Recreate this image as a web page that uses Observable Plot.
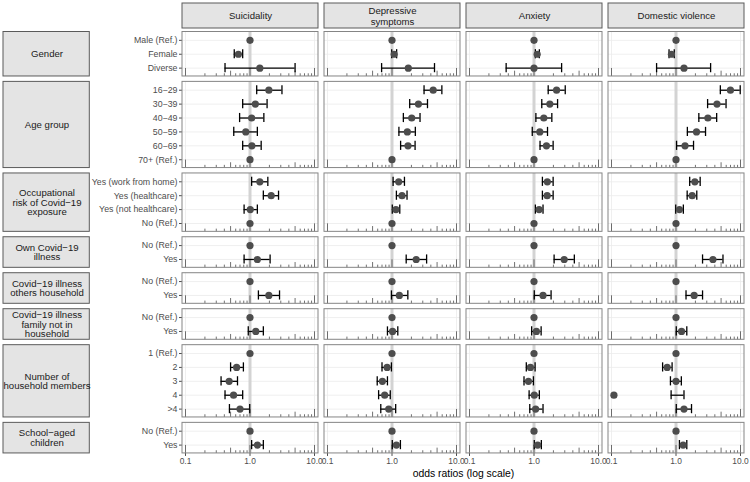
<!DOCTYPE html>
<html><head><meta charset="utf-8">
<script src="https://cdn.jsdelivr.net/npm/d3@7"></script>
<script src="https://cdn.jsdelivr.net/npm/@observablehq/plot@0.6"></script>
<style>
body{margin:0;background:#fff;}
#chart [aria-label="x-axis label"]{font-size:10.4px;fill:#000;}
#chart [aria-label="x-axis tick label"]{font-size:8.4px;}
</style>
</head><body><div id="chart"></div>
<script>
// ---- data ----
const outcomes = ["Suicidality", "Depressive\nsymptoms", "Anxiety", "Domestic violence"];
const groupLabels = [
  "Gender", "Age group", "Occupational\nrisk of Covid\u221219\nexposure", "Own Covid\u221219\nillness",
  "Covid\u221219 illness\nothers household", "Covid\u221219 illness\nfamily not in\nhousehold",
  "Number of\nhousehold members", "School\u2212aged\nchildren"
];
const levels = [
  ["Male (Ref.)", "Female", "Diverse"],
  ["16\u221229", "30\u221239", "40\u221249", "50\u221259", "60\u221269", "70+ (Ref.)"],
  ["Yes (work from home)", "Yes (healthcare)", "Yes (not healthcare)", "No (Ref.)"],
  ["No (Ref.)", "Yes"],
  ["No (Ref.)", "Yes"],
  ["No (Ref.)", "Yes"],
  ["1 (Ref.)", "2", "3", "4", ">4"],
  ["No (Ref.)", "Yes"]
];
const suicidalityOR = [1, 0.66, 1.42, 1.96, 1.21, 1.06, 0.86, 1.07, 1, 1.42, 2.13, 1.01, 1, 1, 1.30, 1, 1.96, 1, 1.23, 1, 0.62, 0.475, 0.556, 0.70, 1, 1.30];
const suicidalityLo = [null, 0.57, 0.41, 1.27, 0.77, 0.69, 0.56, 0.77, null, 1.06, 1.61, 0.81, null, null, 0.81, null, 1.35, null, 0.94, null, 0.50, 0.356, 0.41, 0.48, null, 1.06];
const suicidalityHi = [null, 0.77, 5.0, 3.13, 1.84, 1.64, 1.30, 1.49, null, 1.89, 2.77, 1.30, null, null, 2.05, null, 2.87, null, 1.61, null, 0.79, 0.64, 0.77, 0.99, null, 1.61];
const depressiveOR = [1, 1.08, 1.79, 4.35, 2.57, 2.02, 1.73, 1.77, 1, 1.27, 1.43, 1.15, 1, 1, 2.37, 1, 1.30, 1, 1.02, 1, 0.84, 0.71, 0.77, 0.89, 1, 1.17];
const depressiveLo = [null, 0.99, 0.69, 3.14, 1.88, 1.50, 1.28, 1.36, null, 1.04, 1.17, 1.01, null, null, 1.66, null, 0.98, null, 0.85, null, 0.70, 0.59, 0.62, 0.67, null, 1.01];
const depressiveHi = [null, 1.18, 4.56, 5.93, 3.55, 2.72, 2.30, 2.28, null, 1.56, 1.71, 1.32, null, null, 3.44, null, 1.76, null, 1.23, null, 0.98, 0.85, 0.94, 1.14, null, 1.35];
const anxietyOR = [1, 1.12, 1.0, 2.24, 1.76, 1.42, 1.23, 1.56, 1, 1.61, 1.60, 1.20, 1, 1, 2.94, 1, 1.38, 1, 1.09, 1, 0.88, 0.82, 1.01, 1.06, 1, 1.14];
const anxietyLo = [null, 1.05, 0.37, 1.66, 1.32, 1.07, 0.94, 1.24, null, 1.35, 1.35, 1.05, null, null, 2.05, null, 1.01, null, 0.92, null, 0.76, 0.70, 0.84, 0.86, null, 1.01];
const anxietyHi = [null, 1.21, 2.68, 3.05, 2.32, 1.89, 1.62, 1.98, null, 1.98, 1.98, 1.38, null, null, 4.22, null, 1.84, null, 1.29, null, 1.04, 0.98, 1.21, 1.38, null, 1.30];
const violenceOR = [1, 0.85, 1.33, 6.98, 4.32, 3.12, 2.08, 1.38, 1, 1.96, 1.78, 1.13, 1, 1, 3.74, 1, 1.91, 1, 1.22, 1, 0.73, 1.0, 0.109, 1.33, 1, 1.29];
const violenceLo = [null, 0.78, 0.50, 4.87, 3.09, 2.26, 1.50, 1.02, null, 1.63, 1.49, 0.99, null, null, 2.58, null, 1.43, null, 1.01, null, 0.62, 0.82, 0.84, 1.01, null, 1.13];
const violenceHi = [null, 0.94, 3.44, 9.9, 5.97, 4.27, 2.87, 1.87, null, 2.37, 2.10, 1.30, null, null, 5.35, null, 2.58, null, 1.47, null, 0.87, 1.21, 1.33, 1.74, null, 1.47];
const xTicks = [0.1, 1, 10];
const logTicksLong = [0.1, 1, 10];
const logTicksMid = [0.5, 5];
const logTicksShort = [0.2, 0.3, 0.4, 0.6, 0.7, 0.8, 0.9, 2, 3, 4, 6, 7, 8, 9];

// ---- layout (units of one row) ----
const U = 13.9;            // px per row unit
const GAP = 5.4 / U;       // gap between row panels
const TOP = 31.5;          // px of first panel top
let cur = 0;
const panels = [], rows = [];
groupLabels.forEach((g, gi) => {
  const n = levels[gi].length;
  const top = cur, bottom = cur + n + 0.2;
  panels.push({group: g, top, bottom, mid: (top + bottom) / 2});
  levels[gi].forEach((lab, i) => rows.push({label: lab, pos: top + 0.6 + i}));
  cur = bottom + GAP;
});
const total = cur - GAP;
const hdrTop = (3 - TOP) / U, hdrBottom = (28 - TOP) / U;
const labelByPos = new Map(rows.map(r => [r.pos, r.label]));

const ors = [suicidalityOR, depressiveOR, anxietyOR, violenceOR];
const los = [suicidalityLo, depressiveLo, anxietyLo, violenceLo];
const his = [suicidalityHi, depressiveHi, anxietyHi, violenceHi];
const est = [];
outcomes.forEach((o, k) => rows.forEach((r, i) =>
  est.push({outcome: o, pos: r.pos, or: ors[k][i], lo: los[k][i], hi: his[k][i]})));
const bars = est.filter(d => d.lo != null);

const vgrid = panels.flatMap(p => xTicks.map(v => ({v, top: p.top, bottom: p.bottom})));
const tickLen = [[logTicksLong, 8], [logTicksMid, 5.3], [logTicksShort, 2.7]];
const logTicks = panels.flatMap(p => tickLen.flatMap(([vals, len]) =>
  vals.map(v => ({v, bottom: p.bottom, top: p.bottom - len / U}))));

const height = 482;
const chart = Plot.plot({
  width: 750, height,
  marginLeft: 182, marginRight: 5, marginTop: TOP,
  marginBottom: height - TOP - total * U,
  style: {fontFamily: "'Liberation Sans', Arial, sans-serif", fontSize: "8.8px", color: "#4d4d4d", background: "#fff"},
  fx: {domain: outcomes, paddingInner: 0.042, paddingOuter: 0, axis: null, label: null},
  x: {type: "log", domain: [0.1, 10], insetLeft: 3, insetRight: 4, ticks: xTicks,
      tickFormat: d3.format(".1f"), tickSize: 3, tickPadding: 2,
      label: "odds ratios (log scale)", labelArrow: "none", labelAnchor: "center", labelOffset: 24},
  y: {type: "linear", domain: [0, total], reverse: true, ticks: rows.map(r => r.pos),
      tickFormat: p => labelByPos.get(p), tickSize: 3, tickPadding: 2, label: null},
  marks: [
    // column strips
    Plot.rect(outcomes, {fx: d => d, y1: () => hdrTop, y2: () => hdrBottom, fill: "#e4e4e4", stroke: "#5a5a5a", strokeWidth: 1}),
    Plot.text(outcomes, {fx: d => d, y: () => (hdrTop + hdrBottom) / 2, text: d => d, frameAnchor: "middle", fontSize: 9.6, fill: "#1a1a1a", lineHeight: 1.08}),
    // panel background
    Plot.rect(panels, {y1: "top", y2: "bottom", fill: "#fff"}),
    Plot.ruleY(rows, {y: "pos", stroke: "#ebebeb", strokeWidth: 0.8}),
    Plot.ruleX(vgrid, {x: "v", y1: "top", y2: "bottom", stroke: "#ebebeb", strokeWidth: 0.8}),
    Plot.ruleX(panels, {x: () => 1, y1: "top", y2: "bottom", stroke: "#d3d3d3", strokeWidth: 3}),
    Plot.ruleX(logTicks, {x: "v", y1: "bottom", y2: "top", stroke: "#333", strokeWidth: 0.7}),
    Plot.rect(panels, {y1: "top", y2: "bottom", fill: "none", stroke: "#858585", strokeWidth: 1}),
    // estimates
    Plot.ruleY(bars, {fx: "outcome", y: "pos", x1: "lo", x2: "hi", stroke: "#000", strokeWidth: 1.3}),
    Plot.ruleX(bars, {fx: "outcome", x: "lo", y1: d => d.pos - 0.33, y2: d => d.pos + 0.33, stroke: "#000", strokeWidth: 1.3}),
    Plot.ruleX(bars, {fx: "outcome", x: "hi", y1: d => d.pos - 0.33, y2: d => d.pos + 0.33, stroke: "#000", strokeWidth: 1.3}),
    Plot.dot(est, {fx: "outcome", x: "or", y: "pos", r: 3.6, fill: "#4d4d4d", stroke: "none"}),
    // row strips (left)
    Plot.rect(panels, {fx: () => outcomes[0], y1: "top", y2: "bottom", dx: -179, insetRight: 49.7, fill: "#e4e4e4", stroke: "#5a5a5a", strokeWidth: 1}),
    Plot.text(panels, {fx: () => outcomes[0], y: "mid", text: "group", frameAnchor: "left", textAnchor: "middle", dx: -135.5, fontSize: 9.6, fill: "#1a1a1a", lineHeight: 1.0})
  ]
});
document.getElementById("chart").appendChild(chart);
</script>
</body></html>
